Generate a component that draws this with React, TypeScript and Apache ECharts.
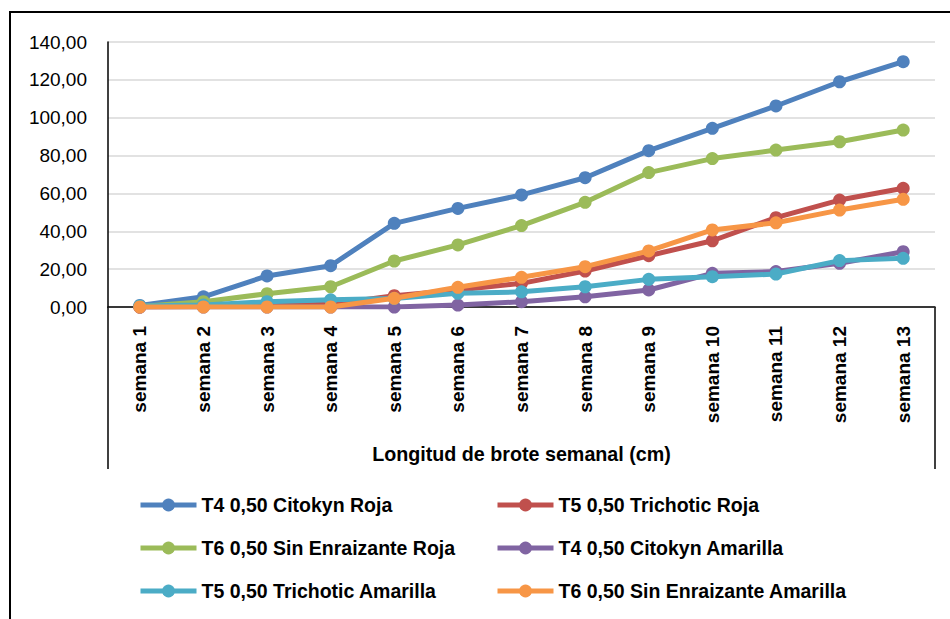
import React, { useEffect, useRef } from "react";
import * as echarts from "echarts";

const categories = [
  "semana 1", "semana 2", "semana 3", "semana 4", "semana 5", "semana 6", "semana 7",
  "semana 8", "semana 9", "semana 10", "semana 11", "semana 12", "semana 13",
];

const seriesNames = [
  "T4 0,50 Citokyn Roja",
  "T5 0,50 Trichotic Roja",
  "T6 0,50 Sin Enraizante Roja",
  "T4 0,50 Citokyn Amarilla",
  "T5 0,50 Trichotic Amarilla",
  "T6 0,50 Sin Enraizante Amarilla",
];

const t4Roja = [0.8, 5.4, 16.4, 21.8, 44.2, 52.1, 59.2, 68.3, 82.6, 94.4, 106.2, 119.0, 129.6];
const t5Roja = [0.0, 0.3, 0.8, 1.5, 6.0, 9.0, 12.5, 19.0, 27.1, 35.0, 47.2, 56.5, 62.7];
const t6Roja = [0.3, 2.8, 7.0, 10.7, 24.3, 32.8, 43.0, 55.3, 71.0, 78.4, 82.9, 87.3, 93.5];
const t4Amarilla = [0.0, 0.0, 0.0, 0.0, 0.0, 1.0, 2.8, 5.4, 9.0, 17.8, 18.7, 23.1, 29.2];
const t5Amarilla = [0.5, 1.0, 2.8, 3.8, 4.5, 7.2, 8.0, 10.7, 14.6, 16.0, 17.4, 24.5, 25.7];
const t6Amarilla = [0.0, 0.0, 0.0, 0.0, 4.6, 10.4, 15.7, 21.3, 29.6, 40.7, 44.5, 51.2, 56.9];

const seriesData = [t4Roja, t5Roja, t6Roja, t4Amarilla, t5Amarilla, t6Amarilla];
const colors = ["#4F81BD", "#C0504D", "#9BBB59", "#8064A2", "#4BACC6", "#F79646"];

const xAxisTitle = "Longitud de brote semanal (cm)";

const font = '"Liberation Sans", Arial, sans-serif';

export default function App() {
  const ref = useRef<HTMLDivElement>(null);

  useEffect(() => {
    if (!ref.current) return;
    const chart = echarts.init(ref.current, undefined, { renderer: "svg" });

    const legendCommon = {
      orient: "vertical" as const,
      top: 494,
      padding: 0,
      itemWidth: 56,
      itemHeight: 16,
      itemGap: 21,
      lineStyle: { width: 5 },
      textStyle: {
        fontFamily: font,
        fontSize: 19.5,
        fontWeight: "bold" as const,
        color: "#000",
        lineHeight: 22,
      },
    };

    chart.setOption({
      animation: false,
      backgroundColor: "#fff",
      grid: { left: 108, right: 15, top: 42, bottom: 312, containLabel: false },
      legend: [
        { ...legendCommon, left: 138, data: [seriesNames[0], seriesNames[2], seriesNames[4]] },
        { ...legendCommon, left: 495, data: [seriesNames[1], seriesNames[3], seriesNames[5]] },
      ],
      xAxis: {
        type: "category",
        data: categories,
        boundaryGap: true,
        axisLine: { show: true, lineStyle: { color: "#000", width: 1.5 } },
        axisTick: { show: false },
        axisLabel: {
          rotate: 90,
          margin: 19,
          fontFamily: font,
          fontSize: 19,
          fontWeight: "bold",
          color: "#000",
          interval: 0,
        },
        name: xAxisTitle,
        nameLocation: "middle",
        nameGap: 137,
        nameTextStyle: {
          fontFamily: font,
          fontSize: 19.7,
          fontWeight: "bold",
          color: "#000",
        },
      },
      yAxis: {
        type: "value",
        min: 0,
        max: 140,
        interval: 20,
        axisLine: { show: true, lineStyle: { color: "#000", width: 1.5 } },
        axisTick: { show: false },
        splitLine: { show: true, lineStyle: { color: "#D9D9D9", width: 1.5 } },
        axisLabel: {
          margin: 21,
          fontFamily: font,
          fontSize: 19,
          color: "#000",
          formatter: (v: number) => v.toFixed(2).replace(".", ","),
        },
      },
      series: seriesNames.map((name, i) => ({
        name,
        type: "line",
        data: seriesData[i],
        symbol: "circle",
        symbolSize: 13,
        showSymbol: true,
        lineStyle: { width: 5, color: colors[i] },
        itemStyle: { color: colors[i] },
        z: 2 + i,
      })),
      graphic: [
        {
          type: "rect",
          shape: { x: 10, y: 12, width: 960, height: 640 },
          style: { fill: "none", stroke: "#000", lineWidth: 2 },
          silent: true,
        },
        {
          type: "line",
          shape: { x1: 108, y1: 307, x2: 108, y2: 469 },
          style: { stroke: "#000", lineWidth: 1.5 },
          silent: true,
        },
        {
          type: "line",
          shape: { x1: 935, y1: 307, x2: 935, y2: 469 },
          style: { stroke: "#000", lineWidth: 1.5 },
          silent: true,
        },
      ],
    });

    return () => chart.dispose();
  }, []);

  return <div ref={ref} style={{ width: 950, height: 619, position: "absolute", left: 0, top: 0 }} />;
}
